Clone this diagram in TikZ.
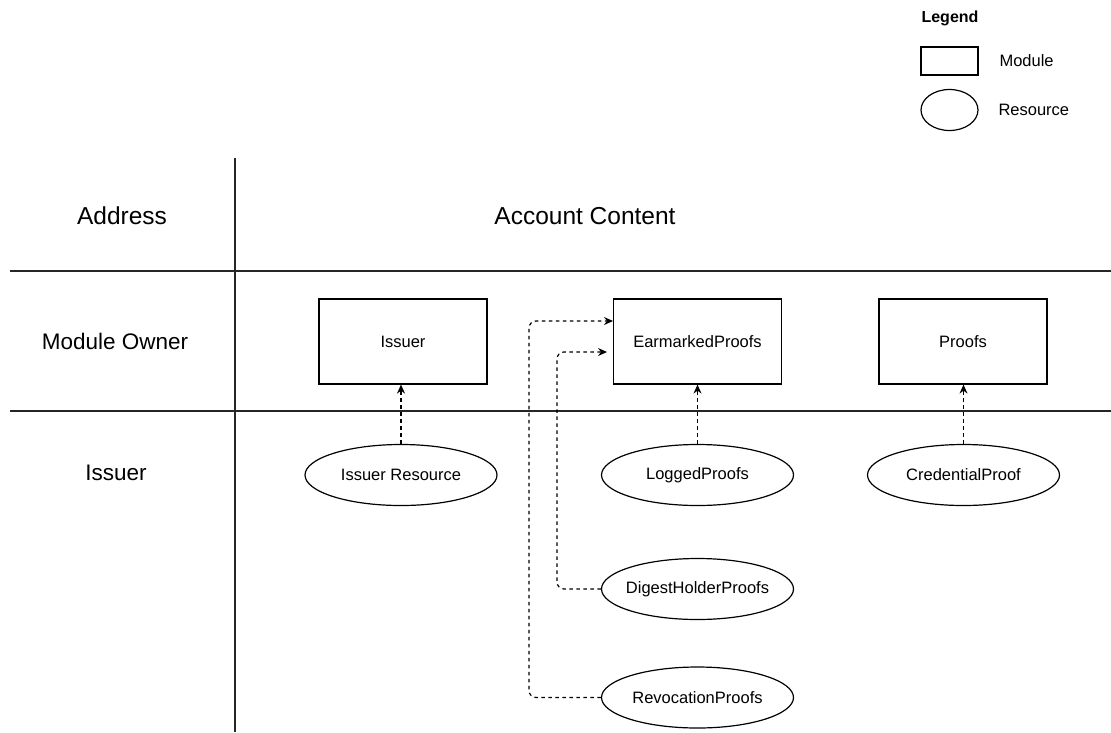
\documentclass[tikz,border=0pt]{standalone}
\usepackage{fontspec}
\setmainfont{Liberation Sans}
\usetikzlibrary{shapes.geometric,arrows.meta}
\begin{document}
\begin{tikzpicture}[x=1pt,y=-1pt,
  module/.style={draw,line width=1.2pt,minimum width=168pt,minimum height=85pt,inner sep=0pt,font=\fontsize{16.5}{19}\selectfont},
  resource/.style={draw,ellipse,line width=1.2pt,minimum width=192pt,minimum height=61pt,inner ysep=0pt,inner xsep=-25pt,font=\fontsize{16.5}{19}\selectfont},
  colhead/.style={font=\fontsize{24.5}{28}\selectfont},
  rowhead/.style={font=\fontsize{22.5}{26}\selectfont},
  legtext/.style={font=\fontsize{16.5}{19}\selectfont,anchor=west},
  grid/.style={line width=1.2pt,draw=black!85},
  link/.style={line width=1.2pt,dashed,dash pattern=on 3.5pt off 3.5pt,rounded corners=7pt,-{Stealth[length=9pt,width=8pt,inset=3pt]}}
]
\useasboundingbox (0,0) rectangle (1111,732);

% table rules
\draw[grid] (235,158) -- (235,732);
\draw[grid] (10,271) -- (1111,271);
\draw[grid] (10,411) -- (1111,411);

% column and row headers
\node[colhead] (haddr) at (122,216) {Address};
\node[colhead] (hcont) at (585,216) {Account Content};
\node[rowhead] (hmod) at (115,341) {Module Owner};
\node[rowhead] (hiss) at (116,473) {Issuer};

% modules
\node[module] (issuer) at (403,341.5) {Issuer};
\node[module] (earm) at (697.5,341.5) {EarmarkedProofs};
\node[module] (proofs) at (963,341.5) {Proofs};

% resources
\node[resource] (ires) at (401,475) {Issuer Resource};
\node[resource] (logged) at (697.5,475) {LoggedProofs};
\node[resource] (cred) at (963.5,475) {CredentialProof};
\node[resource] (digest) at (697.5,589) {DigestHolderProofs};
\node[resource] (revoc) at (697.5,697.5) {RevocationProofs};

% links between resources and their modules
\draw[link] (ires.north) -- (ires.north |- issuer.south);
\draw[link] (logged.north) -- (logged.north |- earm.south);
\draw[link] (cred.north) -- (cred.north |- proofs.south);
\coordinate (dtip) at (607,352);
\coordinate (rtip) at (613,321);
\draw[link] (digest.west) -| (557,352) -- (dtip);
\draw[link] (revoc.west) -| (529,321) -- (rtip);

% legend
\node[font=\fontsize{16}{19}\selectfont\bfseries] (legtitle) at (950,18) {Legend};
\node[draw,line width=1.2pt,minimum width=57pt,minimum height=28pt,inner sep=0pt] (legmod) at (949.5,61) {};
\node[legtext] (legmodt) at (996,61) {Module};
\node[draw,ellipse,line width=1.2pt,minimum width=57pt,minimum height=41pt,inner sep=0pt] (legres) at (949.5,110) {};
\node[legtext] (legrest) at (995,110) {Resource};
\end{tikzpicture}
\end{document}
